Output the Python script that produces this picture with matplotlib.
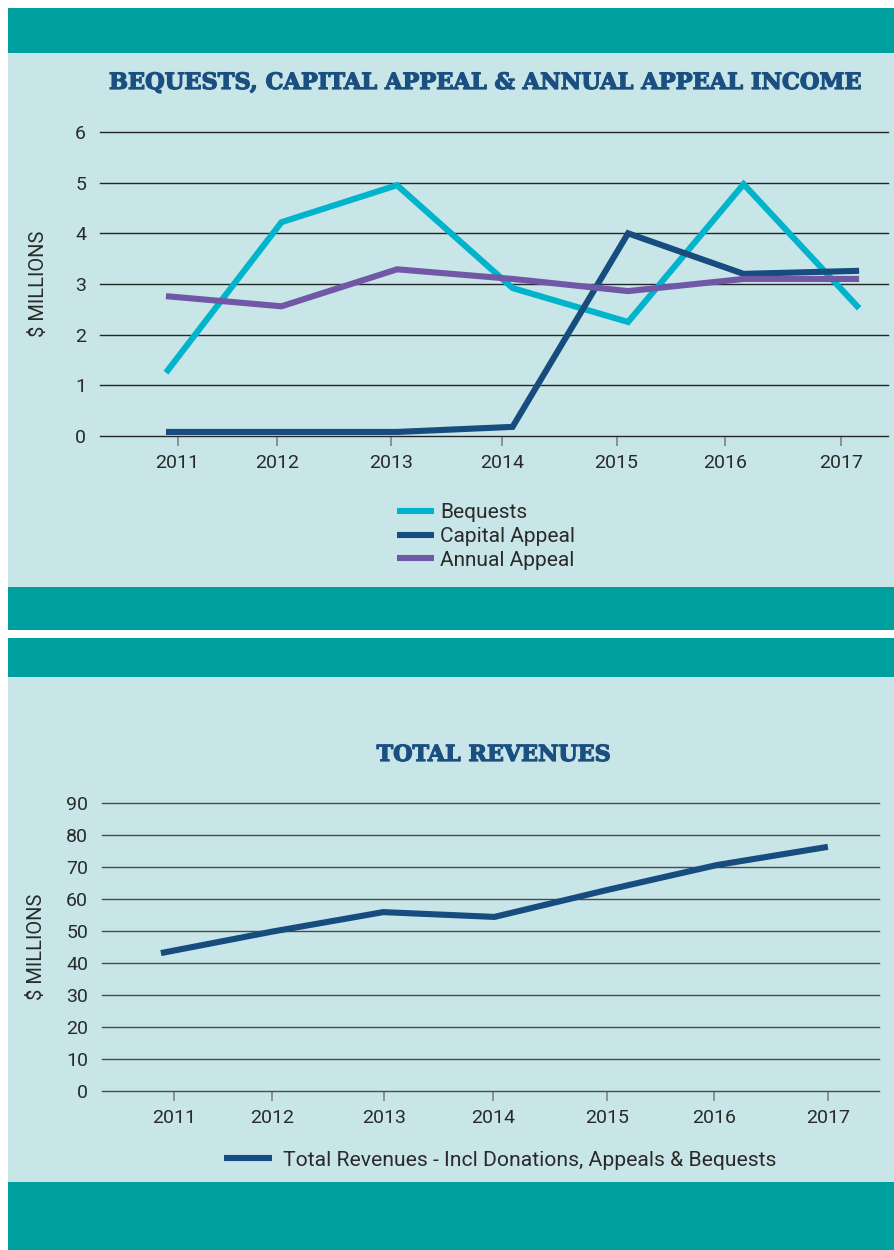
import matplotlib
matplotlib.use("Agg")
import matplotlib.pyplot as plt
from matplotlib.patches import Rectangle
import matplotlib.patheffects as pe
import numpy as np

# data
years = ['2011', '2012', '2013', '2014', '2015', '2016', '2017']
bequests = [1.25, 4.22, 4.95, 2.92, 2.25, 4.97, 2.52]
capital_appeal = [0.08, 0.08, 0.08, 0.18, 4.0, 3.2, 3.26]
annual_appeal = [2.76, 2.56, 3.29, 3.10, 2.86, 3.10, 3.10]
total_revenues = [43.1, 49.8, 55.9, 54.4, 62.7, 70.6, 76.3]

# tick positions (the original chart has its ticks slightly off the points)
top_ticks = [0.10, 0.96, 1.95, 2.91, 3.90, 4.84, 5.84]
bottom_ticks = [0.12, 1.0, 2.01, 2.99, 4.01, 4.98, 6.0]

TEAL = '#009fa0'
PANEL = '#c8e5e8'
C_BEQ = '#00b4cc'
C_CAP = '#174c7e'
C_ANN = '#7158a6'
TITLE_C = '#1b4f80'
TXT = '#2a2a2a'

W, H = 894, 1250
fig = plt.figure(figsize=(W / 100, H / 100), dpi=100)
fig.patch.set_facecolor('white')

def px_rect(x0, y0, x1, y1, color):
    # rectangle in pixel coords (origin top-left)
    r = Rectangle((x0 / W, 1 - y1 / H), (x1 - x0) / W, (y1 - y0) / H,
                  transform=fig.transFigure, facecolor=color, edgecolor='none', zorder=-10)
    fig.patches.append(r)

# background bands
px_rect(8, 8, W, 53, TEAL)
px_rect(8, 53, W, 587, PANEL)
px_rect(8, 587, W, 630, TEAL)
px_rect(8, 638, W, 677, TEAL)
px_rect(8, 677, W, 1182, PANEL)
px_rect(8, 1182, W, H, TEAL)

plt.rcParams['font.family'] = ['Roboto', 'DejaVu Sans']

def style_axes(ax, ticks, ymax, ystep, gridcolor, label_x):
    ax.set_facecolor('none')
    for s in ax.spines.values():
        s.set_visible(False)
    ax.set_ylim(0, ymax)
    ax.set_yticks(np.arange(0, ymax + ystep / 2, ystep))
    ax.yaxis.grid(True, color=gridcolor, linewidth=1.0)
    for gl in ax.get_ygridlines():
        gl.set_clip_on(False)
    ax.set_axisbelow(True)
    ax.set_xticks(ticks)
    ax.set_xticklabels(years)
    ax.tick_params(axis='x', length=7, width=1.1, color='#7a7a7a', pad=6,
                   labelsize=14, labelcolor=TXT)
    ax.tick_params(axis='y', length=0, pad=10, labelsize=14, labelcolor=TXT)
    ax.set_ylabel('$ MILLIONS', fontsize=14.5, color=TXT, va='center')
    ax.yaxis.set_label_coords(label_x, 0.5)

title_fx = [pe.withStroke(linewidth=0.9, foreground=TITLE_C)]

# ---- top chart
ax1 = fig.add_axes([100 / W, 1 - 436 / H, (888 - 100) / W, (436 - 132) / H])
x = np.arange(len(years))
ax1.plot(x, bequests, color=C_BEQ, lw=4.4, solid_capstyle='butt', solid_joinstyle='miter', label='Bequests')
ax1.plot(x, capital_appeal, color=C_CAP, lw=4.4, solid_capstyle='butt', solid_joinstyle='miter', label='Capital Appeal')
ax1.plot(x, annual_appeal, color=C_ANN, lw=4.4, solid_capstyle='butt', solid_joinstyle='miter', label='Annual Appeal')
ax1.set_xlim(-0.571, 6.25)
style_axes(ax1, top_ticks, 6, 1, '#262626', (38 - 100) / 788)
ax1.legend(loc='upper left', bbox_to_anchor=(387 / W, 1 - 493 / H), bbox_transform=fig.transFigure,
           frameon=False, fontsize=15, handlelength=1.75, handletextpad=0.3,
           labelspacing=0.22, borderpad=0, labelcolor=TXT)

fig.text(485 / W, 1 - 83 / H, 'BEQUESTS, CAPITAL APPEAL & ANNUAL APPEAL INCOME',
         family='DejaVu Serif', weight='bold', fontsize=16.2, color=TITLE_C,
         ha='center', va='center', path_effects=title_fx)

# ---- bottom chart
ax2 = fig.add_axes([102 / W, 1 - 1091 / H, (879 - 102) / W, (1091 - 803) / H])
ax2.plot(x, total_revenues, color=C_CAP, lw=4.4, solid_capstyle='butt', solid_joinstyle='miter',
         label='Total Revenues - Incl Donations, Appeals & Bequests')
ax2.set_xlim(-0.53, 6.46)
style_axes(ax2, bottom_ticks, 90, 10, '#4a4a4a', (37 - 102) / 777)
ax2.legend(loc='center', bbox_to_anchor=(500 / W, 1 - 1160 / H), bbox_transform=fig.transFigure,
           frameon=False, fontsize=15.2, handlelength=2.3, handletextpad=0.5,
           borderpad=0, labelcolor=TXT)

fig.text(494 / W, 1 - 755 / H, 'TOTAL REVENUES',
         family='DejaVu Serif', weight='bold', fontsize=16, color=TITLE_C,
         ha='center', va='center', path_effects=title_fx)

fig.savefig('out.png', dpi=100)
